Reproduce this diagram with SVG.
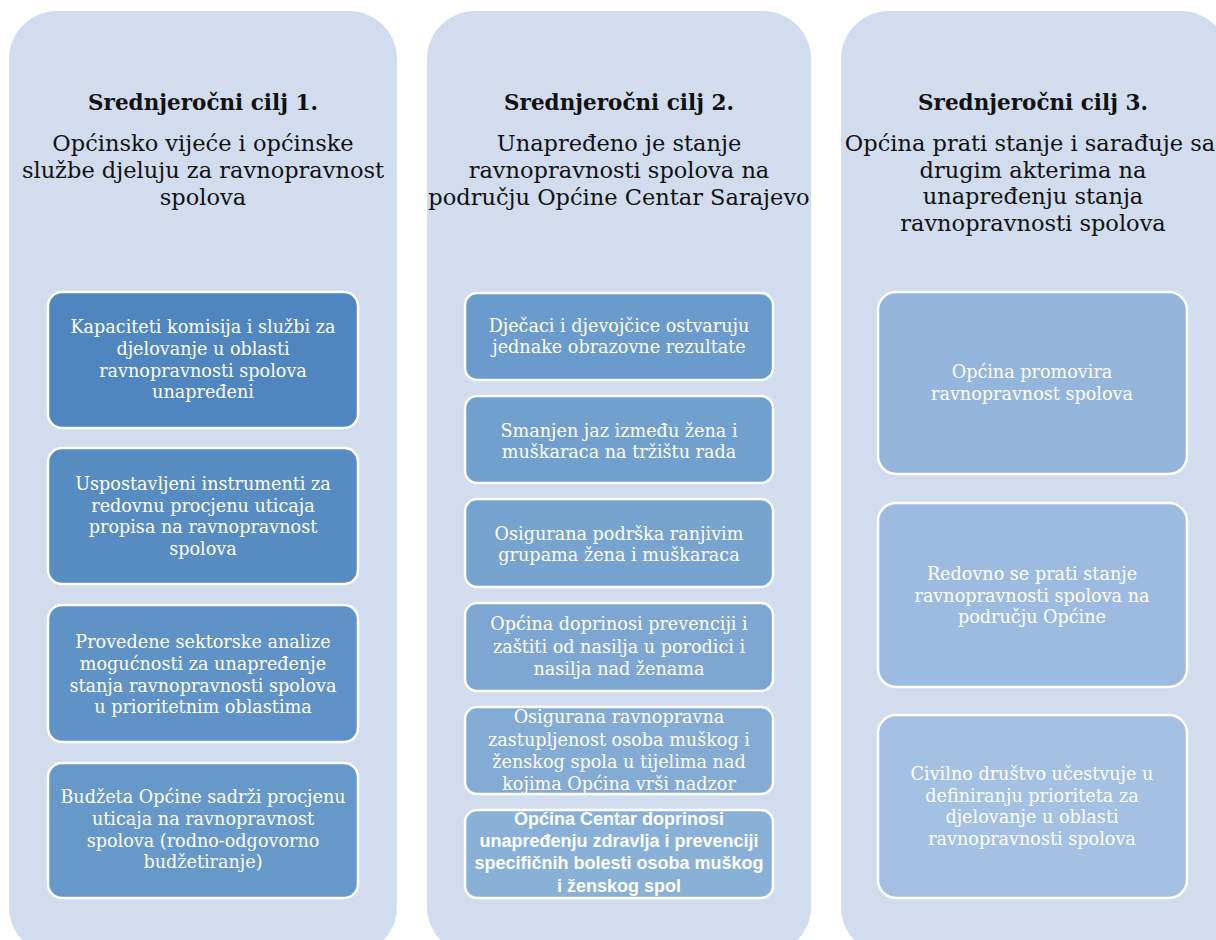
<svg xmlns="http://www.w3.org/2000/svg" width="1216" height="940" viewBox="0 0 1216 940">
<style>
.col{fill:#D1DCEE}
.box{stroke:#FFFFFF;stroke-width:2.5}
.ttl{font-family:"DejaVu Serif","Liberation Serif",serif;font-weight:bold;font-size:21.5px;fill:#111;text-anchor:middle}
.sub{font-family:"DejaVu Serif","Liberation Serif",serif;font-size:22.5px;fill:#111;text-anchor:middle}
.bt{font-family:"DejaVu Serif","Liberation Serif",serif;font-size:17.6px;fill:#FFFFFF;text-anchor:middle}
.bb{font-family:"Liberation Sans",Arial,sans-serif;font-weight:bold;font-size:18px;fill:#FFFFFF;text-anchor:middle}
</style>
<rect width="1216" height="940" fill="#FFFFFF"/>
<g id="column1">
<rect class="col" x="9" y="11" width="388" height="944" rx="48" ry="48"/>
<text class="ttl" x="203" y="110">Srednjeročni cilj 1.</text>
<text class="sub" x="203" y="151">Općinsko vijeće i općinske</text>
<text class="sub" x="203" y="178">službe djeluju za ravnopravnost</text>
<text class="sub" x="203" y="205">spolova</text>
</g>
<g id="column2">
<rect class="col" x="427" y="11" width="384" height="944" rx="48" ry="48"/>
<text class="ttl" x="619" y="110">Srednjeročni cilj 2.</text>
<text class="sub" x="619" y="151">Unapređeno je stanje</text>
<text class="sub" x="619" y="178">ravnopravnosti spolova na</text>
<text class="sub" x="619" y="205">području Općine Centar Sarajevo</text>
</g>
<g id="column3">
<rect class="col" x="841" y="11" width="388" height="944" rx="48" ry="48"/>
<text class="ttl" x="1033" y="110">Srednjeročni cilj 3.</text>
<text class="sub" x="1030" y="151">Općina prati stanje i sarađuje sa</text>
<text class="sub" x="1033" y="177.5">drugim akterima na</text>
<text class="sub" x="1033" y="204">unapređenju stanja</text>
<text class="sub" x="1033" y="230.5">ravnopravnosti spolova</text>
</g>
<g id="c1b1">
<rect class="box" x="48" y="292" width="310" height="136" rx="14" fill="#4F86C0"/>
<text class="bt" x="203" y="333">Kapaciteti komisija i službi za</text>
<text class="bt" x="203" y="355">djelovanje u oblasti</text>
<text class="bt" x="203" y="377">ravnopravnosti spolova</text>
<text class="bt" x="203" y="398">unapređeni</text>
</g>
<g id="c1b2">
<rect class="box" x="48" y="448" width="310" height="136" rx="14" fill="#578CC3"/>
<text class="bt" x="203" y="490">Uspostavljeni instrumenti za</text>
<text class="bt" x="203" y="512">redovnu procjenu uticaja</text>
<text class="bt" x="203" y="533">propisa na ravnopravnost</text>
<text class="bt" x="203" y="555">spolova</text>
</g>
<g id="c1b3">
<rect class="box" x="48" y="605" width="310" height="137" rx="14" fill="#5F92C6"/>
<text class="bt" x="203" y="648">Provedene sektorske analize</text>
<text class="bt" x="203" y="670">mogućnosti za unapređenje</text>
<text class="bt" x="203" y="692">stanja ravnopravnosti spolova</text>
<text class="bt" x="203" y="713">u prioritetnim oblastima</text>
</g>
<g id="c1b4">
<rect class="box" x="48" y="763" width="310" height="135" rx="14" fill="#6798CA"/>
<text class="bt" x="203" y="803">Budžeta Općine sadrži procjenu</text>
<text class="bt" x="203" y="825">uticaja na ravnopravnost</text>
<text class="bt" x="203" y="847">spolova (rodno-odgovorno</text>
<text class="bt" x="203" y="868">budžetiranje)</text>
</g>
<g id="c2b1">
<rect class="box" x="465" y="293" width="308" height="87" rx="12" fill="#6B9BCC"/>
<text class="bt" x="619" y="332">Dječaci i djevojčice ostvaruju</text>
<text class="bt" x="619" y="353">jednake obrazovne rezultate</text>
</g>
<g id="c2b2">
<rect class="box" x="465" y="396" width="308" height="87" rx="12" fill="#719FCE"/>
<text class="bt" x="619" y="437">Smanjen jaz između žena i</text>
<text class="bt" x="619" y="458">muškaraca na tržištu rada</text>
</g>
<g id="c2b3">
<rect class="box" x="465" y="499" width="308" height="88" rx="12" fill="#77A3D0"/>
<text class="bt" x="619" y="540">Osigurana podrška ranjivim</text>
<text class="bt" x="619" y="561">grupama žena i muškaraca</text>
</g>
<g id="c2b4">
<rect class="box" x="465" y="603" width="308" height="88" rx="12" fill="#7DA7D2"/>
<text class="bt" x="619" y="630">Općina doprinosi prevenciji i</text>
<text class="bt" x="619" y="653">zaštiti od nasilja u porodici i</text>
<text class="bt" x="619" y="675">nasilja nad ženama</text>
</g>
<g id="c2b5">
<rect class="box" x="465" y="707" width="308" height="87" rx="12" fill="#83ABD4"/>
<text class="bt" x="619" y="723">Osigurana ravnopravna</text>
<text class="bt" x="619" y="746">zastupljenost osoba muškog i</text>
<text class="bt" x="619" y="768">ženskog spola u tijelima nad</text>
<text class="bt" x="619" y="790">kojima Općina vrši nadzor</text>
</g>
<g id="c2b6">
<rect class="box" x="465" y="810" width="308" height="88" rx="12" fill="#89B0D7"/>
<text class="bb" x="619" y="825">Općina Centar doprinosi</text>
<text class="bb" x="619" y="847">unapređenju zdravlja i prevenciji</text>
<text class="bb" x="619" y="869">specifičnih bolesti osoba muškog</text>
<text class="bb" x="619" y="892">i ženskog spol</text>
</g>
<g id="c3b1">
<rect class="box" x="878" y="292" width="309" height="182" rx="18" fill="#95B6DC"/>
<text class="bt" x="1032" y="378">Općina promovira</text>
<text class="bt" x="1032" y="400">ravnopravnost spolova</text>
</g>
<g id="c3b2">
<rect class="box" x="878" y="503" width="309" height="184" rx="18" fill="#9DBBE0"/>
<text class="bt" x="1032" y="580">Redovno se prati stanje</text>
<text class="bt" x="1032" y="602">ravnopravnosti spolova na</text>
<text class="bt" x="1032" y="623">području Općine</text>
</g>
<g id="c3b3">
<rect class="box" x="878" y="715" width="309" height="183" rx="18" fill="#A4C0E3"/>
<text class="bt" x="1032" y="780">Civilno društvo učestvuje u</text>
<text class="bt" x="1032" y="802">definiranju prioriteta za</text>
<text class="bt" x="1032" y="823">djelovanje u oblasti</text>
<text class="bt" x="1032" y="845">ravnopravnosti spolova</text>
</g>
<g id="connectors"></g>
</svg>
